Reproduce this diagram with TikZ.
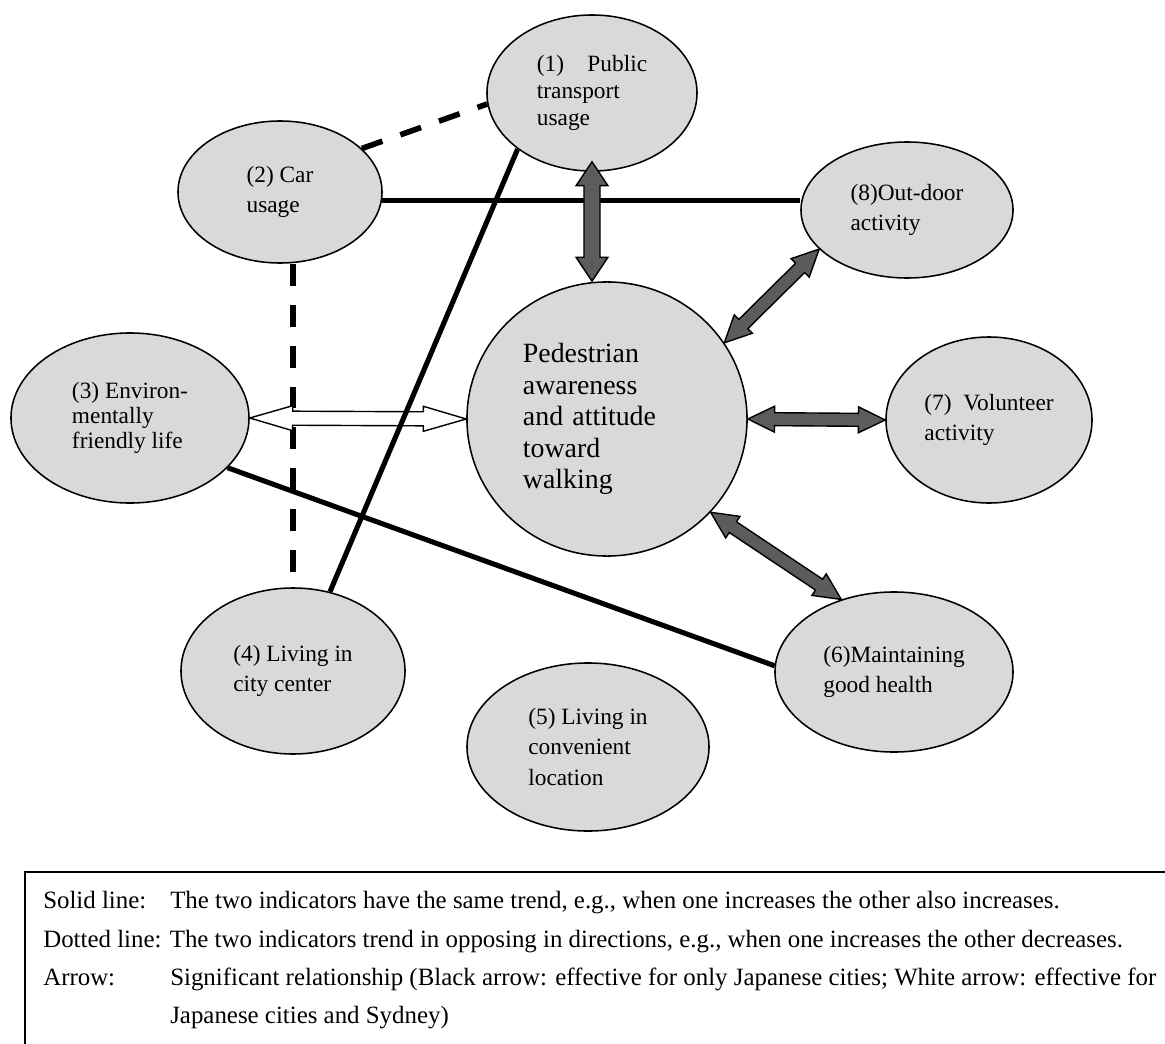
\documentclass[tikz,border=0pt]{standalone}
\usepackage{fontspec}
\setmainfont{Liberation Serif}
\usepackage{tikz}
\usetikzlibrary{positioning,shapes.geometric,calc}

\definecolor{ovalfill}{gray}{0.85}
\definecolor{arrowfill}{gray}{0.36}

% double headed block arrow: style, tip, tip, head length, head half width, shaft half width
\newcommand{\twohead}[6]{%
  \draw[#1] (#2)
    -- ($(#2)!#4!(#3)!#5!90:(#3)$) -- ($(#2)!#4!(#3)!#6!90:(#3)$)
    -- ($(#3)!#4!(#2)!#6!-90:(#2)$) -- ($(#3)!#4!(#2)!#5!-90:(#2)$)
    -- (#3)
    -- ($(#3)!#4!(#2)!#5!90:(#2)$) -- ($(#3)!#4!(#2)!#6!90:(#2)$)
    -- ($(#2)!#4!(#3)!#6!-90:(#3)$) -- ($(#2)!#4!(#3)!#5!-90:(#3)$)
    -- cycle;}

\begin{document}
\begin{tikzpicture}[x=0.025cm, y=-0.025cm,
    oval/.style={ellipse, draw, line width=1.1pt, fill=ovalfill, inner sep=0pt, align=left,
                 font=\fontsize{16.6}{21.8}\selectfont},
    sameline/.style={line width=3.6pt},
    oppline/.style={line width=4pt, dash pattern=on 15.6pt off 13.5pt},
    grayarr/.style={draw, line width=1pt, fill=arrowfill},
    whitearr/.style={draw, line width=1pt, fill=white},
    legend/.style={anchor=base west, inner sep=0pt, font=\fontsize{17.7}{27}\selectfont}
    ]
    \useasboundingbox (0,0) rectangle (1165,1044);

    \node[oval, minimum width=5.25cm, minimum height=3.9cm,
          font=\fontsize{16.6}{19.2}\selectfont] (n1) at (592,93) {(1)\quad Public\\transport\\usage};
    \node[oval, minimum width=5.1cm, minimum height=3.55cm] (n2) at (280,192) {(2) Car\\usage};
    \node[oval, minimum width=5.3cm, minimum height=3.4cm] (n8) at (907,210) {(8)Out-door\\activity};
    \node[oval, minimum width=5.95cm, minimum height=4.25cm,
          font=\fontsize{16.6}{17.6}\selectfont] (n3) at (130,418) {(3) Environ-\\mentally\\friendly life};
    \node[oval, minimum width=7cm, minimum height=6.85cm, text width=4.2cm,
          font=\fontsize{19.8}{22.5}\selectfont] (nc) at (607,419)
          {Pedestrian\\awareness\\and attitude\\toward\\walking};
    \node[oval, minimum width=5.15cm, minimum height=4.15cm] (n7) at (989,420) {(7)\enspace Volunteer\\activity};
    \node[oval, minimum width=5.95cm, minimum height=4cm] (n6) at (894,672) {(6)Maintaining\\good health};
    \node[oval, minimum width=5.6cm, minimum height=4.15cm] (n4) at (293,671) {(4) Living in\\city center};
    \node[oval, minimum width=6.05cm, minimum height=4.2cm] (n5) at (588,747) {(5) Living in\\convenient\\location};

    \draw[oppline] (n2.28) -- (n1.186);
    \draw[oppline] (n4.north |- n2.south) -- (n4.north);

    \twohead{whitearr}{n3.east}{nc.west}{30.5pt}{8.9pt}{5pt}

    \draw[sameline] (n2.-5) -- (n2.-5 -| n8.west);
    \draw[sameline] (n4.65) -- (n1.217);
    \draw[sameline] (n3.-27) -- (n6.177);

    \coordinate (ptop) at ($(n1.south)+(0,-10)$);
    \coordinate (pbot) at (n1.south |- nc.north);
    \twohead{grayarr}{ptop}{pbot}{17pt}{11.3pt}{5.7pt}
    \twohead{grayarr}{nc.33}{n8.204}{19pt}{9.2pt}{4.6pt}
    \twohead{grayarr}{nc.east}{n7.west}{19pt}{9.2pt}{4.6pt}
    \twohead{grayarr}{nc.-42}{n6.126}{19pt}{9.2pt}{4.6pt}

    % legend
    \draw[line width=1.4pt] (25,1044) -- (25,872) -- (1165,872);
    \node[legend] (sl) at (43,908) {Solid line:};
    \node[legend] (slt) at (170,908) {The two indicators have the same trend, e.g., when one increases the other also increases.};
    \node[legend] (dl) at (43,947) {Dotted line: The two indicators trend in opposing in directions, e.g., when one increases the other decreases.};
    \node[legend] (ar) at (43,985) {Arrow:};
    \node[legend] (art) at (170,985) {Significant relationship (Black arrow: effective for only Japanese cities; White arrow: effective for};
    \node[legend] (art2) at (170,1023) {Japanese cities and Sydney)};
\end{tikzpicture}
\end{document}
